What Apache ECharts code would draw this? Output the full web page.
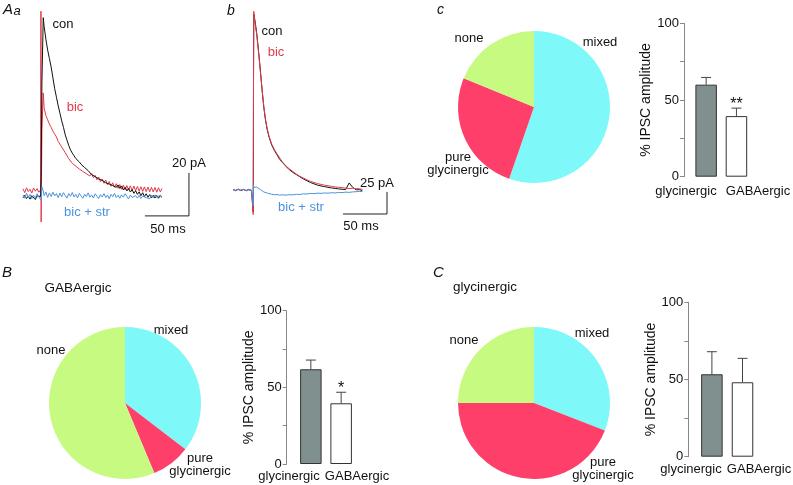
<!DOCTYPE html>
<html>
<head>
<meta charset="utf-8">
<script src="https://cdn.jsdelivr.net/npm/echarts@6/dist/echarts.min.js"></script>
<style>
  html, body { margin: 0; background: #fff; }
  #chart { width: 793px; height: 485px; }
</style>
</head>
<body>
<div id="chart"></div>
<script>
// ---- traces, panel Aa (time in ms, current in pA)
const aaTime = [
  0, 2, 4, 6, 8, 10, 12, 14, 16, 18,
  20, 20.4, 20.6, 21.5, 23, 24, 26, 28, 30, 32,
  34, 36, 38, 40, 42, 44, 46, 48, 50, 52,
  54, 56, 58, 60, 62, 64, 66, 68, 70, 72,
  74, 76, 78, 80, 82, 84, 86, 88, 90, 92,
  94, 96, 98, 100, 102, 104, 106, 108, 110, 112,
  114, 116, 118, 120, 122, 124, 126, 128, 130, 132,
  134, 136, 138, 140, 142, 144, 146, 148, 150, 152,
  154, 156, 158
]
const aaCon = [
  -1.8, -0.6, -2.1, -1.0, -2.4, -0.8, -1.6, -2.6, -0.9, -1.7,
  -1.2, -1.5, 8, 52, 82, 78, 72, 67, 63, 59,
  54, 49, 45, 41, 37.5, 34, 31, 27.5, 25, 22.5,
  20.5, 19, 17.8, 16.5, 15.6, 14.9, 13.8, 13.0, 12.3, 11.4,
  10.9, 10.2, 9.0, 9.6, 8.1, 8.6, 7.0, 7.6, 6.3, 6.9,
  5.2, 6.1, 4.6, 5.5, 3.9, 4.8, 3.1, 4.2, 2.6, 3.7,
  1.9, 3.1, 1.4, 2.6, 0.9, 2.0, 0.3, 1.5, -0.2, 1.0,
  -0.8, 0.6, -1.2, 0.1, -1.5, -0.3, -1.8, -0.6, -1.9, -0.7,
  -2.0, -0.8, -1.6
]
const aaBic = [
  2.4, 0.6, 2.9, 1.1, 2.2, 0.4, 2.8, 1.3, 2.5, 0.8,
  1.9, 85, -13, 30, 47, 40, 36.5, 34.5, 32.5, 31,
  29.2, 27.8, 26.5, 24.4, 23.6, 21.8, 21.3, 19.2, 18.7, 16.4,
  16.2, 14.3, 14.6, 12.9, 13.4, 11.6, 12.4, 10.5, 11.2, 9.4,
  10.3, 8.4, 9.5, 7.5, 8.6, 6.6, 7.9, 5.7, 7.0, 5.0,
  6.5, 4.3, 5.8, 3.6, 5.2, 3.1, 4.8, 2.6, 4.4, 2.2,
  4.1, 1.9, 3.9, 1.8, 3.8, 1.6, 3.7, 1.5, 3.5, 1.4,
  3.4, 1.2, 3.3, 1.1, 3.2, 1.0, 3.1, 0.9, 3.0, 0.8,
  2.9, 1.0, 2.6
]
const aaStr = [
  -0.4, -2.0, 0.3, -1.5, -0.2, -2.1, -0.6, -1.8, 0.1, -1.4,
  -0.5, -0.3, -3, 3.2, 1.5, -0.8, 0.9, -1.6, 0.5, -1.2,
  0.8, -0.9, 0.2, -1.7, 0.4, -1.3, 0.6, -0.7, -1.9, 0.2,
  -1.1, 0.7, -1.4, -0.2, -1.8, 0.3, -0.9, -2.0, -0.1, -1.2,
  0.5, -1.5, -0.4, -1.9, 0.1, -1.0, -2.1, -0.3, -1.4, 0.2,
  -1.6, -0.5, -2.2, -0.2, -1.3, 0.3, -1.7, -0.6, -2.0, -0.4,
  -1.5, 0.1, -1.1, -2.3, -0.5, -1.6, -2.4, -0.8, -1.9, -0.6,
  -2.1, -1.0, -0.3, -1.7, -0.9, -2.2, -0.7, -1.8, -0.4, -1.5,
  -2.0, -0.6, -1.3
]

// ---- traces, panel b
const bTime = [
  0, 3, 6, 9, 12, 15, 18, 21, 22.8, 23.0,
  23.3, 23.6, 25, 27, 29, 31, 33, 35, 37, 39,
  41, 44, 47, 50, 53, 56, 60, 64, 68, 72,
  76, 80, 84, 88, 92, 96, 100, 104, 108, 112,
  116, 120, 124, 128, 132, 136, 138, 140, 142, 144,
  147
]
const bCon = [
  0.5, -0.8, 0.9, -0.5, 0.6, -0.9, 0.4, -0.6, 0.2, -25,
  120, 200, 192, 178, 158, 137, 114, 94, 79, 68,
  60, 51, 45, 40, 35, 31.5, 27, 23, 20, 17.5,
  15, 12.5, 10.5, 8.5, 7, 5.5, 4.6, 3.8, 3.0, 2.3,
  1.8, 1.2, 0.8, 0.4, 8, 3, 1, 0.2, -0.4, 0.3,
  -0.8
]
const bBic = [
  0.3, -0.4, 0.7, -0.7, 0.4, -0.5, 0.8, -0.3, 0.1, -28,
  125, 203, 190, 176, 157, 136, 115, 95, 80, 69,
  61, 52, 46, 41, 36.5, 32, 27.5, 24, 21, 18,
  15.5, 13.5, 11.5, 9.8, 8.5, 7.2, 6.4, 5.4, 4.8, 4.1,
  3.4, 3.0, 2.6, 2.1, 1.6, 1.9, 1.2, 1.5, 0.9, 1.4,
  0.6
]
const bStr = [
  0.2, -0.5, 0.4, -0.3, 0.6, -0.6, 0.3, -0.2, 0.1, -18,
  6, 3, 4.5, 3.2, 2.0, 0.5, -1.0, -2.2, -3.0, -3.6,
  -4.3, -4.8, -5.4, -5.2, -5.8, -5.5, -5.9, -5.4, -5.6, -4.9,
  -5.1, -4.4, -4.6, -3.9, -4.2, -3.6, -3.9, -3.4, -3.7, -3.1,
  -3.4, -2.8, -3.0, -2.5, -2.7, -2.2, -2.4, -1.9, -2.2, -1.7,
  -1.9
]

// scale bars: [start ms, start pA, length ms, length pA]
const aaScale = [138.6, -10.2, 50, 20]
const bScale = [125, -27.3, 50, 25]

// ---- pies (% of cells)
const pieNames = ['mixed', 'pure\nglycinergic', 'none']
const pieColors = ['#7ff8fa', '#fd3f69', '#c7fa80']
const pieC = [55.3, 25.9, 18.8]
const pieB = [35.4, 8.3, 56.3]
const pieCC = [30.9, 44.1, 25.0]

// ---- bars (% IPSC amplitude, mean and sem)
const barCats = ['glycinergic', 'GABAergic']
const barC = [60.0, 39.5]
const semC = [4.7, 5.2]
const starsC = ['', '**']
const barB = [61.8, 39.6]
const semB = [6.0, 7.2]
const starsB = ['', '*']
const barCC = [53.4, 48.2]
const semCC = [14.6, 15.5]
const starsCC = ['', '']
const yTicks = [0, 50, 100]

const FONT = '"Liberation Sans", Arial, Helvetica, sans-serif'
const RED = '#e23a48'
const BLUE = '#4b93de'

const chart = echarts.init(document.getElementById('chart'))

function zip(t, v) {
    return t.map((x, i) => [x, v[i]])
}

function traceSeries(idx, t, v, color) {
    return {
        type: 'line', xAxisIndex: idx, yAxisIndex: idx,
        data: zip(t, v), showSymbol: false, symbol: 'none',
        lineStyle: { color: color, width: 1 }, silent: true
    }
}

function scaleSeries(idx, s) {
    return {
        type: 'line', xAxisIndex: idx, yAxisIndex: idx,
        data: [[s[0], s[1]], [s[0] + s[2], s[1]], [s[0] + s[2], s[1] + s[3]]],
        showSymbol: false, symbol: 'none',
        lineStyle: { color: '#222', width: 1 }, silent: true
    }
}

function pieSeries(center, values) {
    return {
        type: 'pie', center: center, radius: 76, startAngle: 90, clockwise: true,
        label: { show: false }, labelLine: { show: false }, silent: true,
        data: values.map((v, i) => ({ name: pieNames[i], value: v, itemStyle: { color: pieColors[i] } }))
    }
}

function barSeries(idx, means) {
    const fills = ['#7f908f', '#ffffff']
    return {
        type: 'bar', xAxisIndex: idx, yAxisIndex: idx, barWidth: 21.5, silent: true,
        data: means.map((m, i) => ({ value: m, itemStyle: { color: fills[i], borderColor: '#333', borderWidth: 1 } }))
    }
}

function errorSeries(idx, means, sems, stars) {
    return {
        type: 'custom', xAxisIndex: idx, yAxisIndex: idx, z: 3, silent: true,
        data: means.map((m, i) => [i, m, m + sems[i]]),
        renderItem: function (params, api) {
            const base = api.coord([api.value(0), api.value(1)])
            const top = api.coord([api.value(0), api.value(2)])
            const star = stars[params.dataIndex]
            const kids = [
                { type: 'line', shape: { x1: base[0], y1: base[1], x2: top[0], y2: top[1] }, style: { stroke: '#444', lineWidth: 1 } },
                { type: 'line', shape: { x1: top[0] - 5, y1: top[1], x2: top[0] + 5, y2: top[1] }, style: { stroke: '#444', lineWidth: 1 } }
            ]
            if (star) {
                kids.push({ type: 'text', style: { text: star, x: top[0], y: top[1] - 4, align: 'center', verticalAlign: 'middle', font: '16px ' + FONT, fill: '#111' } })
            }
            return { type: 'group', children: kids }
        }
    }
}

function hiddenValue(idx, min, max) {
    return { type: 'value', gridIndex: idx, min: min, max: max, show: false, splitLine: { show: false } }
}

function barY(idx, offset) {
    return {
        type: 'value', gridIndex: idx, min: 0, max: 100, interval: 25, offset: offset,
        name: '% IPSC amplitude', nameLocation: 'middle', nameGap: 28, nameRotate: 90,
        nameTextStyle: { fontSize: 14, color: '#111', fontFamily: FONT },
        axisLine: { show: true, lineStyle: { color: '#888', width: 1 } },
        axisTick: { show: true, length: 4, lineStyle: { color: '#888' } },
        axisLabel: { fontSize: 13, color: '#111', margin: 5, fontFamily: FONT,
            formatter: v => (yTicks.indexOf(v) >= 0 ? String(v) : '') },
        splitLine: { show: false }
    }
}

function barX(idx) {
    return { type: 'category', gridIndex: idx, data: barCats, show: false }
}

function txt(text, x, y, opts) {
    const o = opts || {}
    return {
        type: 'text', silent: true,
        style: {
            text: text, x: x, y: y,
            font: (o.style || '') + ' ' + (o.size || 13) + 'px ' + FONT,
            fill: o.color || '#111',
            align: o.align || 'center', textAlign: o.align || 'center',
            verticalAlign: 'middle', textVerticalAlign: 'middle',
            lineHeight: o.lh || 13
        }
    }
}

// labels that sit under the bars
function catLabels(xs, y) {
    return barCats.map((c, i) => txt(c, xs[i], y, { size: 13 }))
}

const graphics = [
    // panel letters
    txt('A', 3, 10, { style: 'italic', size: 15, align: 'left' }),
    txt('a', 13.5, 11, { style: 'italic', size: 13, align: 'left' }),
    txt('b', 227, 11, { style: 'italic', size: 14, align: 'left' }),
    txt('c', 437, 10, { style: 'italic', size: 14, align: 'left' }),
    txt('B', 2, 273, { style: 'italic', size: 15, align: 'left' }),
    txt('C', 433, 273, { style: 'italic', size: 15, align: 'left' }),
    txt('GABAergic', 78, 288, { size: 13.5 }),
    txt('glycinergic', 485, 287, { size: 13.5 }),
    // trace labels
    txt('con', 63, 24),
    txt('bic', 75, 107, { color: RED }),
    txt('bic + str', 87, 212, { color: BLUE }),
    txt('20 pA', 189, 163),
    txt('50 ms', 168, 229),
    txt('con', 272, 31),
    txt('bic', 276, 52, { color: RED }),
    txt('bic + str', 301, 207, { color: BLUE }),
    txt('25 pA', 377, 183),
    txt('50 ms', 361, 226),
    // pie labels
    txt('none', 469, 38),
    txt('mixed', 600, 42),
    txt(pieNames[1], 458, 164),
    txt('mixed', 171, 330),
    txt('none', 51, 350),
    txt(pieNames[1], 200, 464.5),
    txt('none', 464, 340),
    txt('mixed', 592, 333),
    txt(pieNames[1], 603, 469)
].concat(catLabels([686, 758], 191), catLabels([289, 357], 476), catLabels([691, 759], 469))

const option = {
    animation: false,
    backgroundColor: '#fff',
    textStyle: { fontFamily: FONT },
    grid: [
        { left: 23, top: 8, width: 168.96, height: 215 },
        { left: 233, top: 8, width: 158.4, height: 214 },
        { left: 691, top: 23.3, width: 60.6, height: 153.4 },
        { left: 295.7, top: 310.7, width: 60.6, height: 153.3 },
        { left: 696.6, top: 302.3, width: 61.2, height: 154.4 }
    ],
    xAxis: [
        hiddenValue(0, 0, 192),
        hiddenValue(1, 0, 180),
        barX(2), barX(3), barX(4)
    ],
    yAxis: [
        hiddenValue(0, -13.5, 86.5),
        hiddenValue(1, -36.4, 206.8),
        barY(2, 7), barY(3, 9), barY(4, 8.3)
    ],
    graphic: graphics,
    series: [
        traceSeries(0, aaTime, aaBic, RED),
        traceSeries(0, aaTime, aaCon, '#111'),
        traceSeries(0, aaTime, aaStr, BLUE),
        scaleSeries(0, aaScale),
        traceSeries(1, bTime, bCon, '#111'),
        traceSeries(1, bTime, bBic, RED),
        traceSeries(1, bTime, bStr, BLUE),
        scaleSeries(1, bScale),
        pieSeries([534, 107], pieC),
        pieSeries([125, 403], pieB),
        pieSeries([534, 403], pieCC),
        barSeries(2, barC), errorSeries(2, barC, semC, starsC),
        barSeries(3, barB), errorSeries(3, barB, semB, starsB),
        barSeries(4, barCC), errorSeries(4, barCC, semCC, starsCC)
    ]
}

chart.setOption(option)
</script>
</body>
</html>
